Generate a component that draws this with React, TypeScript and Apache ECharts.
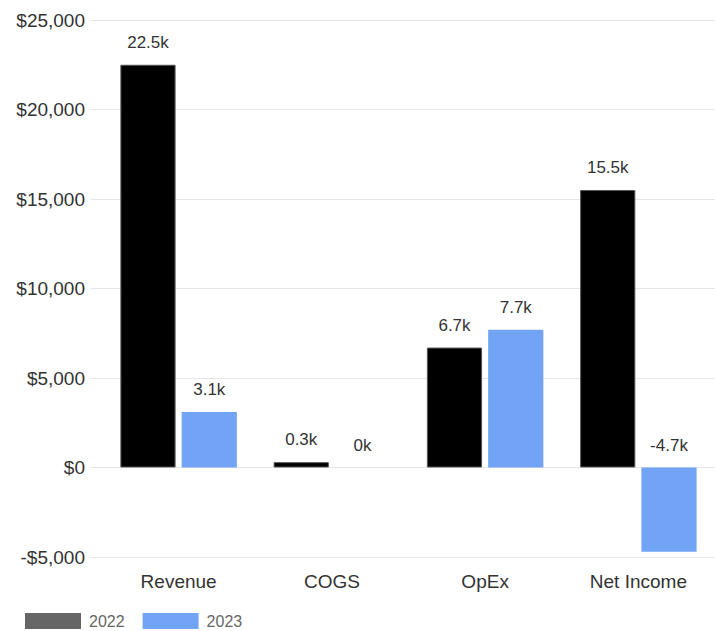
import React, { useEffect, useRef } from "react";
import * as echarts from "echarts";

const categories = ["Revenue", "COGS", "OpEx", "Net Income"];
const values2022 = [22500, 300, 6700, 15500];
const values2023 = [3100, 0, 7700, -4700];
const seriesNames = ["2022", "2023"];

const FONT = "'Liberation Sans', Arial, sans-serif";

const fmtK = (v: number) => `${Math.round(v / 100) / 10}k`;
const fmtDollar = (v: number) =>
  (v < 0 ? "-$" : "$") + Math.abs(v).toLocaleString("en-US");

export default function App() {
  const ref = useRef<HTMLDivElement>(null);
  useEffect(() => {
    if (!ref.current) return;
    const chart = echarts.init(ref.current, undefined, { renderer: "svg" });
    const label = {
      show: true,
      position: "top" as const,
      distance: 14,
      color: "#333",
      fontSize: 17,
      fontFamily: FONT,
      formatter: (p: any) => fmtK(p.value),
    };
    chart.setOption({
      animation: false,
      grid: { left: 102, right: 0, top: 20, bottom: 74 },
      legend: {
        left: 25,
        top: 613,
        padding: 0,
        itemWidth: 56,
        itemHeight: 16,
        itemGap: 18,
        icon: "rect",
        textStyle: {
          color: "#666",
          fontSize: 16,
          lineHeight: 16,
          fontFamily: FONT,
          padding: [0, 0, 0, 3],
        },
        data: [
          { name: seriesNames[0], itemStyle: { color: "#666", borderWidth: 0 } },
          { name: seriesNames[1], itemStyle: { color: "#72a4f5", borderWidth: 0 } },
        ],
      },
      xAxis: {
        type: "category",
        data: categories,
        axisLine: { show: false },
        axisTick: { show: false },
        axisLabel: { color: "#333", fontSize: 19, fontFamily: FONT, margin: 15 },
      },
      yAxis: {
        type: "value",
        min: -5000,
        max: 25000,
        interval: 5000,
        axisLine: { show: false },
        axisTick: { show: true, length: 11, lineStyle: { color: "#e5e5e5" } },
        splitLine: { lineStyle: { color: "#e5e5e5" } },
        axisLabel: {
          color: "#333",
          fontSize: 19,
          fontFamily: FONT,
          margin: 17,
          formatter: fmtDollar,
        },
      },
      series: [
        {
          name: seriesNames[0],
          type: "bar",
          data: values2022,
          barGap: "11%",
          barCategoryGap: "24%",
          itemStyle: { color: "#000", borderColor: "#555", borderWidth: 1 },
          label,
        },
        {
          name: seriesNames[1],
          type: "bar",
          data: values2023,
          itemStyle: { color: "#72a4f5", borderWidth: 0 },
          label,
        },
      ],
    });
    return () => chart.dispose();
  }, []);
  return (
    <div
      ref={ref}
      style={{ position: "fixed", left: 0, top: 0, width: 715, height: 631, background: "#fff" }}
    />
  );
}
